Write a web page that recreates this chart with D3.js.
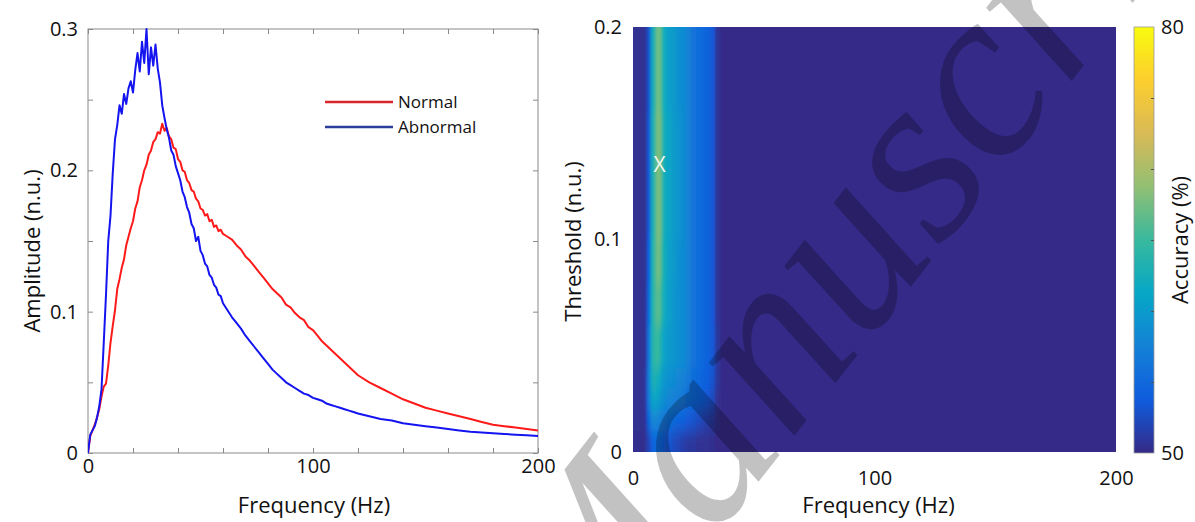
<!DOCTYPE html>
<html>
<head>
<meta charset="utf-8">
<script src="https://cdn.jsdelivr.net/npm/d3@7"></script>
<style>
  body { margin: 0; background: #fff; }
  svg { display: block; }
  text { font-family: "Open Sans", sans-serif; fill: #111; }
</style>
</head>
<body>
<svg id="chart" width="1195" height="522"></svg>
<script>
// ---- spectrum (left panel) ----
const freqHz = [
  0,1,2,3,4,5,6,7,8,9,10,11,12,13,14,15,16,17,18,19,20,21,22,23,24,25,26,27,28,29,30,
  31,32,33,34,35,36,37,38,39,40,41,42,43,44,45,46,47,48,49,50,51,52,53,54,55,56,57,58,59,60,
  62,64,66,68,70,72,74,76,78,80,82,84,86,88,90,92,94,96,98,100,
  102,104,106,108,110,112,114,116,118,120,
  125,130,135,140,145,150,155,160,165,170,175,180,185,190,195,200]

const ampNormal = [
  0.000,0.012,0.016,0.020,0.025,0.031,0.040,0.047,0.049,0.062,0.078,0.090,0.101,0.116,0.123,0.131,
  0.137,0.147,0.153,0.159,0.164,0.173,0.178,0.188,0.193,0.200,0.204,0.211,0.214,0.220,0.222,
  0.227,0.226,0.233,0.228,0.230,0.224,0.222,0.216,0.215,0.208,0.206,0.200,0.199,0.193,0.191,
  0.186,0.185,0.180,0.178,0.173,0.172,0.168,0.169,0.164,0.165,0.160,0.161,0.157,0.158,0.155,
  0.153,0.151,0.147,0.144,0.139,0.136,0.132,0.128,0.124,0.120,0.116,0.113,0.110,0.105,0.103,
  0.099,0.096,0.094,0.089,0.087,
  0.083,0.079,0.076,0.073,0.070,0.067,0.064,0.061,0.058,0.055,
  0.050,0.046,0.042,0.038,0.035,0.032,0.030,0.028,0.026,0.024,0.022,0.020,0.019,0.018,0.017,0.016]

const ampAbnormal = [
  0.000,0.013,0.016,0.019,0.025,0.033,0.045,0.078,0.112,0.150,0.168,0.198,0.222,0.232,0.246,0.240,
  0.254,0.247,0.258,0.263,0.255,0.271,0.283,0.270,0.291,0.276,0.300,0.268,0.287,0.274,0.289,
  0.272,0.262,0.246,0.237,0.229,0.223,0.214,0.211,0.203,0.198,0.193,0.185,0.181,0.174,0.170,
  0.162,0.159,0.150,0.153,0.143,0.140,0.134,0.132,0.126,0.124,0.119,0.117,0.112,0.111,0.106,
  0.101,0.096,0.092,0.088,0.083,0.079,0.075,0.071,0.067,0.063,0.059,0.056,0.053,0.050,0.048,
  0.046,0.044,0.042,0.041,0.039,
  0.038,0.037,0.035,0.034,0.033,0.032,0.031,0.030,0.029,0.028,
  0.026,0.024,0.023,0.021,0.020,0.019,0.018,0.017,0.016,0.015,0.0145,0.014,0.0135,0.013,0.0125,0.012]

const seriesNames = ["Normal", "Abnormal"]
const seriesColors = ["#ff1a1a", "#1414f0"]
const legendColors = ["#d8262b", "#2b3d9a"]

const ampTicks = [0, 0.05, 0.1, 0.15, 0.2, 0.25, 0.3]
const ampLabels = [0, 0.1, 0.2, 0.3]
const freqTicks = [0, 20, 40, 60, 80, 100, 120, 140, 160, 180, 200]
const freqLabels = [0, 100, 200]

// ---- accuracy map (right panel) ----
const hmFreqEdges = [0,5,6,7,8,9,10,11,12,13,14,16,18,20,22,24,26,28,30,32,34,36,200]
const hmThrEdges = [0,0.01,0.02,0.03,0.04,0.06,0.08,0.1,0.13,0.16,0.2]
// rows from lowest threshold upward, one value per frequency bin
const accuracy = [
  [50.3,50.8,52,53.5,54.5,55,55,54.5,54,53.5,53,52.5,52,51.5,51,51,50.5,50.5,50.5,50.3,50,50],
  [50.5,51.5,54.5,57,58,58,57.5,57,56.5,56,55.5,55,54.5,54,53.5,53,52.5,52,51.5,51,50.2,50],
  [50.5,52,56.5,60,61,61,60.5,59.5,59,58.5,58,57.5,57,56.5,55.5,55,54.5,54,53.5,52.5,50.5,50],
  [50.5,52,57,61,63,63,62,61,60,59.5,59,58.5,58,57.5,56.5,55.5,55,54.5,54,53,51,50],
  [50.5,51.5,56,61,64,65,64.5,63,61.5,60.5,60,59.5,59,58.5,57.5,56,55.5,55,54.5,53.5,51,50],
  [50.5,51.2,55,60.5,64,66,66.5,65,63,61.5,60.5,59.5,59,58.5,57.5,56,55.5,55,54.5,53.5,50.8,50],
  [50.5,51,54,60,64,66.5,67.5,66,63.5,62,60.5,60,59,58.5,57.5,56,55.5,55,54.5,53.5,50.8,50],
  [50.5,51,53.5,59.5,63.5,66.5,68,66.5,64,62,61,60,59.5,58.5,57.5,56,55.5,55,54.5,53.5,50.8,50],
  [50.5,51,53.5,59.5,63.5,66.5,68,66.5,64,62,61,60,59.5,58.5,57.5,56,55.5,55,54.5,53.5,50.8,50],
  [50.5,51,53,59,63,66,67.5,66,63.5,61.5,60.5,60,59,58.5,57.5,56,55.5,55,54.5,53.5,50.8,50]]
const bestPoint = [{ freq: 11, thr: 0.1355 }]

const thrTicks = [0, 0.1, 0.2]
const hmFreqTicks = [0, 100, 200]
const accTicks = [55, 60, 65, 70, 75]
const accLabels = [50, 80]

// parula-like colour map
const parula = ["#352a87","#0f5cdd","#1481d6","#06a7c6","#38b99e","#92bf73","#d9ba56","#fcce2e","#f9fb0e"]
const color = d3.scaleLinear()
  .domain(d3.range(parula.length).map(i => 50 + 30 * i / (parula.length - 1)))
  .range(parula)
  .clamp(true)

const svg = d3.select("#chart")
const defs = svg.append("defs")
const frameColor = "#8a8a8a"

// ================= left panel =================
const L = { x0: 88, x1: 538, y0: 29, y1: 453 }
const x = d3.scaleLinear().domain([0, 200]).range([L.x0, L.x1])
const y = d3.scaleLinear().domain([0, 0.3]).range([L.y1, L.y0])

defs.append("clipPath").attr("id", "clipL")
  .append("rect").attr("x", L.x0).attr("y", L.y0 - 1).attr("width", L.x1 - L.x0).attr("height", L.y1 - L.y0 + 1)

const fmt = d => d === 0 ? "0" : String(d)

svg.append("g").attr("transform", `translate(0,${L.y1})`)
  .call(d3.axisBottom(x).tickValues(freqTicks).tickSizeInner(-5).tickSizeOuter(0).tickPadding(6)
    .tickFormat(d => freqLabels.includes(d) ? fmt(d) : ""))
svg.append("g").attr("transform", `translate(0,${L.y0})`)
  .call(d3.axisTop(x).tickValues(freqTicks).tickSizeInner(-5).tickSizeOuter(0).tickFormat(""))
svg.append("g").attr("transform", `translate(${L.x0},0)`)
  .call(d3.axisLeft(y).tickValues(ampTicks).tickSizeInner(-5).tickSizeOuter(0).tickPadding(10)
    .tickFormat(d => ampLabels.some(v => Math.abs(v - d) < 1e-9) ? fmt(+d.toFixed(2)) : ""))
svg.append("g").attr("transform", `translate(${L.x1},0)`)
  .call(d3.axisRight(y).tickValues(ampTicks).tickSizeInner(-5).tickSizeOuter(0).tickFormat(""))

svg.selectAll(".domain").remove()
svg.selectAll(".tick line").attr("stroke", frameColor)
svg.selectAll(".tick text").style("font-size", "20px").attr("fill", "#111")

svg.append("rect").attr("x", L.x0).attr("y", L.y0).attr("width", L.x1 - L.x0).attr("height", L.y1 - L.y0)
  .attr("fill", "none").attr("stroke", frameColor).attr("stroke-width", 1)

const line = d3.line().x(d => x(d[0])).y(d => y(d[1]))
const curves = [ampNormal, ampAbnormal]
svg.append("g").attr("clip-path", "url(#clipL)")
  .selectAll("path").data(curves).join("path")
  .attr("d", a => line(freqHz.map((f, i) => [f, a[i]])))
  .attr("fill", "none")
  .attr("stroke", (a, i) => seriesColors[i])
  .attr("stroke-width", 2)
  .attr("stroke-linejoin", "round")

const legend = svg.append("g")
seriesNames.forEach((name, i) => {
  const ly = 102 + i * 25
  legend.append("line").attr("x1", 325).attr("x2", 393).attr("y1", ly).attr("y2", ly)
    .attr("stroke", legendColors[i]).attr("stroke-width", 2.5)
  legend.append("text").attr("x", 398).attr("y", ly).attr("dy", "0.35em")
    .style("font-size", "17px").text(name)
})

svg.append("text").attr("x", (L.x0 + L.x1) / 2 + 1).attr("y", 513)
  .attr("text-anchor", "middle").style("font-size", "22px").text("Frequency (Hz)")
svg.append("text").attr("transform", `translate(40,${(L.y0 + L.y1) / 2 + 10}) rotate(-90)`)
  .attr("text-anchor", "middle").style("font-size", "22px").text("Amplitude (n.u.)")

// ================= right panel =================
const R = { x0: 633, x1: 1116, y0: 27, y1: 452 }
const hx = d3.scaleLinear().domain([0, 200]).range([R.x0, R.x1])
const hy = d3.scaleLinear().domain([0, 0.2]).range([R.y1, R.y0])

defs.append("clipPath").attr("id", "clipR")
  .append("rect").attr("x", R.x0).attr("y", R.y0).attr("width", R.x1 - R.x0).attr("height", R.y1 - R.y0)
const blur = defs.append("filter").attr("id", "soft")
  .attr("filterUnits", "userSpaceOnUse")
  .attr("x", R.x0 - 40).attr("y", R.y0 - 40).attr("width", R.x1 - R.x0 + 80).attr("height", R.y1 - R.y0 + 80)
blur.append("feGaussianBlur").attr("stdDeviation", "1.3 7")

const cells = []
accuracy.forEach((row, i) => row.forEach((v, j) => cells.push({ i, j, v })))
const nRows = hmThrEdges.length - 1, nCols = hmFreqEdges.length - 1
const pad = 30  // outer cells run past the frame so the blur keeps the edges solid

svg.append("g").attr("clip-path", "url(#clipR)")
  .append("g").attr("filter", "url(#soft)")
  .selectAll("rect").data(cells).join("rect")
  .attr("x", d => hx(hmFreqEdges[d.j]) - (d.j === 0 ? pad : 0))
  .attr("width", d => hx(hmFreqEdges[d.j + 1]) - hx(hmFreqEdges[d.j]) + 0.5 + (d.j === 0 || d.j === nCols - 1 ? pad : 0))
  .attr("y", d => hy(hmThrEdges[d.i + 1]) - (d.i === nRows - 1 ? pad : 0))
  .attr("height", d => hy(hmThrEdges[d.i]) - hy(hmThrEdges[d.i + 1]) + 0.5 + (d.i === 0 || d.i === nRows - 1 ? pad : 0))
  .attr("fill", d => color(d.v))
  .attr("shape-rendering", "crispEdges")

svg.selectAll(".best").data(bestPoint).join("text")
  .attr("class", "best")
  .attr("x", d => hx(d.freq)).attr("y", d => hy(d.thr))
  .attr("text-anchor", "middle").attr("dy", "0.36em")
  .style("font-size", "21px").style("fill", "#eef8f4").text("X")

const gy = svg.append("g").attr("transform", `translate(${R.x0},0)`)
  .call(d3.axisLeft(hy).tickValues(thrTicks).tickSize(0).tickPadding(11).tickFormat(d => fmt(d)))
const gx = svg.append("g").attr("transform", `translate(0,${R.y1})`)
  .call(d3.axisBottom(hx).tickValues(hmFreqTicks).tickSize(0).tickPadding(19).tickFormat(d => fmt(d)))
gy.select(".domain").remove(); gx.select(".domain").remove()
gy.selectAll("text").style("font-size", "20px")
gx.selectAll("text").style("font-size", "20px")

svg.append("text").attr("x", (R.x0 + R.x1) / 2 + 4).attr("y", 513)
  .attr("text-anchor", "middle").style("font-size", "22px").text("Frequency (Hz)")
svg.append("text").attr("transform", `translate(581,${(R.y0 + R.y1) / 2 + 2}) rotate(-90)`)
  .attr("text-anchor", "middle").style("font-size", "22px").text("Threshold (n.u.)")

// colour bar
const C = { x0: 1134, x1: 1154, y0: 27, y1: 453 }
const cb = d3.scaleLinear().domain([50, 80]).range([C.y1, C.y0])
const grad = defs.append("linearGradient").attr("id", "cbar")
  .attr("x1", 0).attr("x2", 0).attr("y1", 1).attr("y2", 0)
grad.selectAll("stop").data(parula).join("stop")
  .attr("offset", (c, i) => i / (parula.length - 1)).attr("stop-color", c => c)
svg.append("rect").attr("x", C.x0).attr("y", C.y0).attr("width", C.x1 - C.x0).attr("height", C.y1 - C.y0)
  .attr("fill", "url(#cbar)").attr("stroke", "#9a9a9a").attr("stroke-width", 0.8)
svg.append("g").attr("transform", `translate(${C.x1},0)`)
  .call(d3.axisLeft(cb).tickValues(accTicks).tickSize(3).tickFormat(""))
  .call(g => g.select(".domain").remove())
  .selectAll("line").attr("stroke", "#555")
svg.append("g").attr("transform", `translate(${C.x1},0)`)
  .call(d3.axisRight(cb).tickValues(accLabels).tickSize(0).tickPadding(7))
  .call(g => g.select(".domain").remove())
  .selectAll("text").style("font-size", "20px")
svg.append("text").attr("transform", `translate(1188,240) rotate(-90)`)
  .attr("text-anchor", "middle").style("font-size", "22px").text("Accuracy (%)")

// watermark
svg.append("text")
  .attr("transform", "translate(588,700) rotate(-52)")
  .style("font-family", "'Liberation Serif', serif")
  .style("font-style", "italic")
  .style("font-size", "245px")
  .style("fill", "#000").style("fill-opacity", 0.24)
  .style("pointer-events", "none")
  .text("Manuscript")
</script>
</body>
</html>
